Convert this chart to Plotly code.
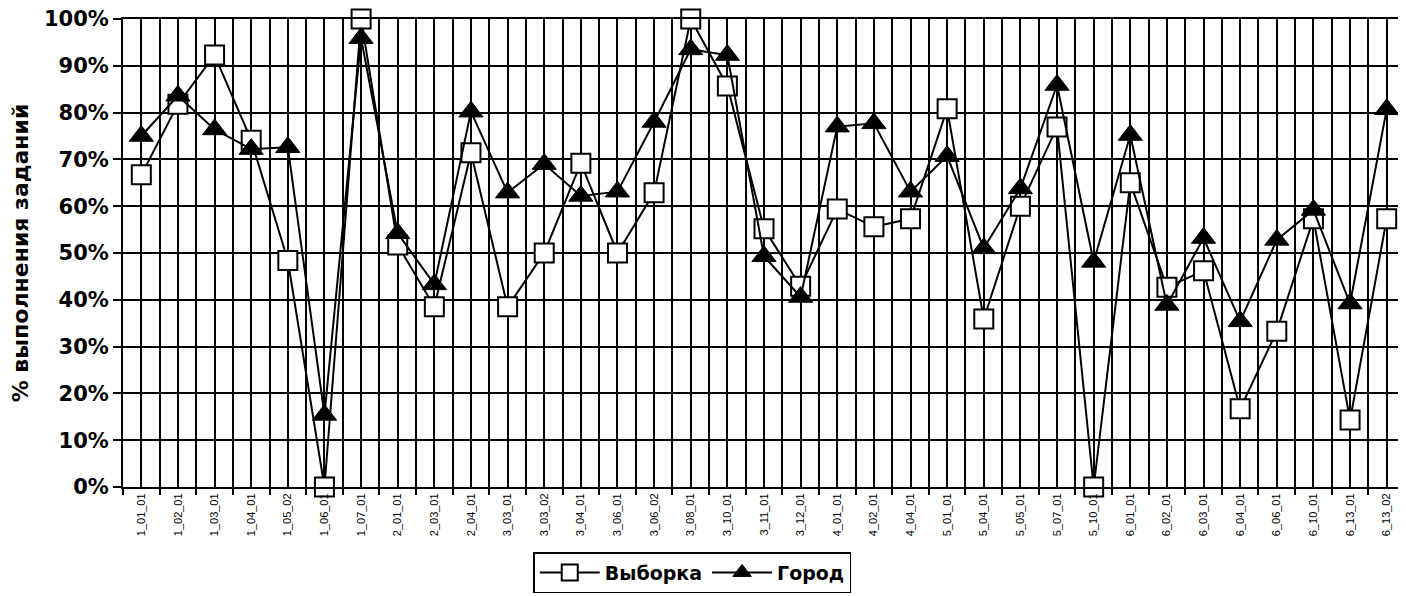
import plotly.graph_objects as go

categories = ["1_01_01", "1_02_01", "1_03_01", "1_04_01", "1_05_02", "1_06_01", "1_07_01",
              "2_01_01", "2_03_01", "2_04_01", "3_03_01", "3_03_02", "3_04_01", "3_06_01",
              "3_06_02", "3_08_01", "3_10_01", "3_11_01", "3_12_01", "4_01_01", "4_02_01",
              "4_04_01", "5_01_01", "5_04_01", "5_05_01", "5_07_01", "5_10_01", "6_01_01",
              "6_02_01", "6_03_01", "6_04_01", "6_06_01", "6_10_01", "6_13_01", "6_13_02"]

vyborka = [66.7, 81.8, 92.3, 74.1, 48.4, 0.0, 100.0,
           51.7, 38.5, 71.4, 38.5, 50.0, 69.2, 50.0,
           62.9, 100.0, 85.7, 55.2, 42.9, 59.4, 55.6,
           57.3, 80.8, 35.9, 60.0, 76.9, 0.0, 65.0,
           42.7, 46.2, 16.7, 33.3, 57.3, 14.3, 57.3]

gorod = [75.0, 83.6, 76.4, 72.2, 72.6, 15.4, 95.9,
         54.2, 43.3, 80.2, 62.9, 69.0, 62.2, 63.1,
         78.0, 93.5, 92.3, 49.3, 40.6, 77.0, 77.7,
         63.1, 70.7, 51.0, 63.8, 85.9, 48.1, 75.2,
         38.9, 53.2, 35.4, 52.8, 59.2, 39.2, 80.7]

yticks = [0, 10, 20, 30, 40, 50, 60, 70, 80, 90, 100]

xpos = list(range(len(categories)))

BOLD = "DejaVu Sans"

fig = go.Figure()
fig.add_trace(go.Scatter(
    x=xpos, y=vyborka, name="Выборка", mode="lines+markers", cliponaxis=False,
    line=dict(color="black", width=2),
    marker=dict(symbol="square", size=19, color="white", line=dict(color="black", width=2)),
))
fig.add_trace(go.Scatter(
    x=xpos, y=gorod, name="Город", mode="lines+markers", cliponaxis=False,
    line=dict(color="black", width=2),
    marker=dict(symbol="triangle-up", size=21, color="black", line=dict(color="black", width=1)),
))

# page body has an 8px default margin, so the figure is 8px smaller than the window
fig.update_layout(
    width=1398, height=588,
    margin=dict(l=115, r=1, t=11, b=109, autoexpand=False),
    paper_bgcolor="white", plot_bgcolor="white",
    font=dict(family="Liberation Sans, Arial, sans-serif", color="black"),
    showlegend=True,
    legend=dict(
        orientation="h", x=0.32, xanchor="left", y=-0.139, yanchor="top",
        bordercolor="black", borderwidth=1.5,
        font=dict(size=19, family=BOLD, color="black", weight="bold"),
        itemwidth=60,
    ),
)

fig.update_xaxes(
    range=[-0.5, len(categories) - 0.5],
    automargin=False,
    tickmode="array", tickvals=xpos, ticktext=categories,
    tickangle=-90, tickfont=dict(size=11, color="black", family="Liberation Sans, Arial, sans-serif"),
    showgrid=True, gridcolor="black", gridwidth=2,
    ticks="", ticklen=0,
    showline=True, linecolor="black", linewidth=2, mirror=True,
    zeroline=False,
    minor=dict(tick0=0.5, dtick=1, showgrid=True, gridcolor="black", gridwidth=2,
               ticks="outside", ticklen=6, tickcolor="black", tickwidth=2),
)

fig.update_yaxes(
    range=[0, 100],
    automargin=False,
    tickmode="array", tickvals=yticks, ticktext=[f"{v}%" for v in yticks],
    tickfont=dict(size=21, color="black", family=BOLD, weight="bold"),
    ticklabeloverflow="allow",
    showgrid=True, gridcolor="black", gridwidth=2,
    ticks="outside", ticklen=8, tickcolor="black", tickwidth=2,
    showline=True, linecolor="black", linewidth=2, mirror=True,
    zeroline=False,
    title=dict(text="% выполнения заданий", font=dict(size=22, color="black", family=BOLD, weight="bold"),
               standoff=12),
)

fig.write_html("out.html")
